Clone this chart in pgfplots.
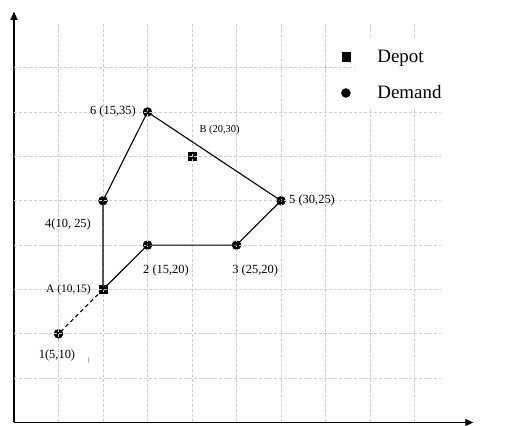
\documentclass[border=0pt]{standalone}
\usepackage{pgfplots}
\pgfplotsset{compat=1.18}
\usetikzlibrary{arrows.meta}
\usepackage{fontspec}
\setmainfont{Liberation Serif}
\begin{document}
\begin{tikzpicture}
\begin{axis}[
 x=8.9bp, y=8.87bp,
 xmin=0, xmax=51.6, ymin=0, ymax=46.3,
 axis lines=left,
 axis line style={line width=1.3bp, -{Triangle[length=8bp,width=7bp]}},
 xtick=\empty, ytick=\empty,
 clip=false, clip marker paths=true,
 legend style={at={(0.824,0.846)}, anchor=center, draw=none, fill=none,
   font=\fontsize{19}{21}\selectfont, row sep=18bp, /tikz/column sep=25bp},
 legend cell align=left,
]
\tikzset{gridl/.style={gray!40, line width=0.6bp, dash pattern=on 3bp off 2bp}}
% bounding box
\path (axis cs:-1.573,-0.282) rectangle (axis cs:56.29,47.63);
% depots
\addplot[only marks, mark=square*, mark size=4.1bp, black] coordinates {(10,15)(20,30)};
\addlegendentry{Depot}
% demand
\addplot[only marks, mark=*, mark size=4.5bp, black] coordinates {(5,10)(15,20)(25,20)(10,25)(30,25)(15,35)};
\addlegendentry{Demand}
% grid
\addplot[gridl, forget plot] coordinates {(5,0)(5,45)};
\addplot[gridl, forget plot] coordinates {(10,0)(10,45)};
\addplot[gridl, forget plot] coordinates {(15,0)(15,45)};
\addplot[gridl, forget plot] coordinates {(20,0)(20,45)};
\addplot[gridl, forget plot] coordinates {(25,0)(25,45)};
\addplot[gridl, forget plot] coordinates {(30,0)(30,45)};
\addplot[gridl, forget plot] coordinates {(35,0)(35,45)};
\addplot[gridl, forget plot] coordinates {(40,0)(40,35.5)};
\addplot[gridl, forget plot] coordinates {(40,43.5)(40,45)};
\addplot[gridl, forget plot] coordinates {(45,0)(45,35.5)};
\addplot[gridl, forget plot] coordinates {(45,43.5)(45,45)};
\addplot[gridl, forget plot] coordinates {(0,5)(48,5)};
\addplot[gridl, forget plot] coordinates {(0,10)(48,10)};
\addplot[gridl, forget plot] coordinates {(0,15)(48,15)};
\addplot[gridl, forget plot] coordinates {(0,20)(48,20)};
\addplot[gridl, forget plot] coordinates {(0,25)(48,25)};
\addplot[gridl, forget plot] coordinates {(0,30)(48,30)};
\addplot[gridl, forget plot] coordinates {(0,35)(48,35)};
\addplot[gridl, forget plot] coordinates {(0,40)(38.3,40)};
% route
\addplot[black, line width=1.1bp, forget plot] coordinates {(10,15)(15,20)(25,20)(30,25)(15,35)(10,25)(10,15)};
\addplot[black, line width=1.1bp, dash pattern=on 4bp off 3bp, forget plot] coordinates {(10,15)(5,10)};
% labels
\tikzset{lab/.style={inner sep=0pt, font=\fontsize{12.5}{14}\selectfont}}
\node[lab, anchor=east] at (axis cs:13.7,35.1) {6 (15,35)};
\node[lab, font=\fontsize{10.5}{12}\selectfont] at (axis cs:23.1,33.0) {B (20,30)};
\node[lab, anchor=west] at (axis cs:30.9,25.0) {5 (30,25)};
\node[lab] at (axis cs:6.07,22.27) {4(10, 25)};
\node[lab] at (axis cs:17.08,17.08) {2 (15,20)};
\node[lab] at (axis cs:27.1,17.08) {3 (25,20)};
\node[lab, anchor=east, font=\fontsize{11.5}{13}\selectfont] at (axis cs:8.65,14.94) {A (10,15)};
\node[lab] at (axis cs:4.83,7.6) {1(5,10)};
\draw[gray!60, line width=0.6bp] (axis cs:8.31,7.38) -- (axis cs:8.31,6.71);
\end{axis}
\end{tikzpicture}
\end{document}
